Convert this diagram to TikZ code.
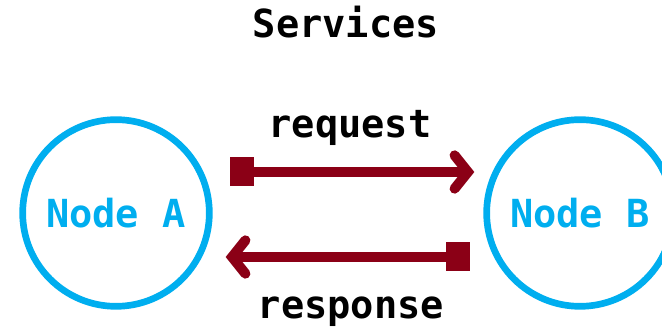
\documentclass[tikz,border=0pt]{standalone}
\usepackage{fontspec}
\setmonofont{DejaVu Sans Mono}
\usetikzlibrary{positioning, calc, arrows.meta}

\begin{document}
\begin{tikzpicture}[x=0.75pt, y=-0.75pt]
    % Colours
    \definecolor{myblue}{RGB}{0, 174, 239}
    \definecolor{myred}{RGB}{139, 0, 22}
    \tikzset{
        peer/.style={circle, draw=myblue, line width=5pt, minimum size=140pt, inner sep=0pt,
            text=myblue, font=\ttfamily\bfseries\fontsize{29}{32}\selectfont},
        lbl/.style={anchor=base, font=\ttfamily\bfseries\fontsize{29}{32}\selectfont},
        flow/.style={draw=myred, line width=7.5pt,
            {Square[length=18pt, width=21.75pt]}-{Straight Barb[length=10pt, width=25pt, line cap=round]}}
    }
    \useasboundingbox (0,0) rectangle (662,327);

    % 1. The two nodes (B is cut by the right edge)
    \node[peer] (A) at (116,213) {Node A};
    \node[peer] (B) at (580,213) {Node B};

    % 2. Texts
    \node[lbl] (title) at (346,38) {Services};
    \node[lbl] (req) at (350,138) {request};
    \node[lbl] (resp) at (351,319) {response};

    % 3. request: A -> B (above), response: B -> A (below)
    \draw[flow] ([xshift=12.75pt, yshift=30.75pt]A.east) -- ([xshift=-6.75pt, yshift=30.75pt]B.west);
    \draw[flow] ([xshift=-9.75pt, yshift=-33pt]B.west) -- ([xshift=9.75pt, yshift=-33pt]A.east);
\end{tikzpicture}
\end{document}
